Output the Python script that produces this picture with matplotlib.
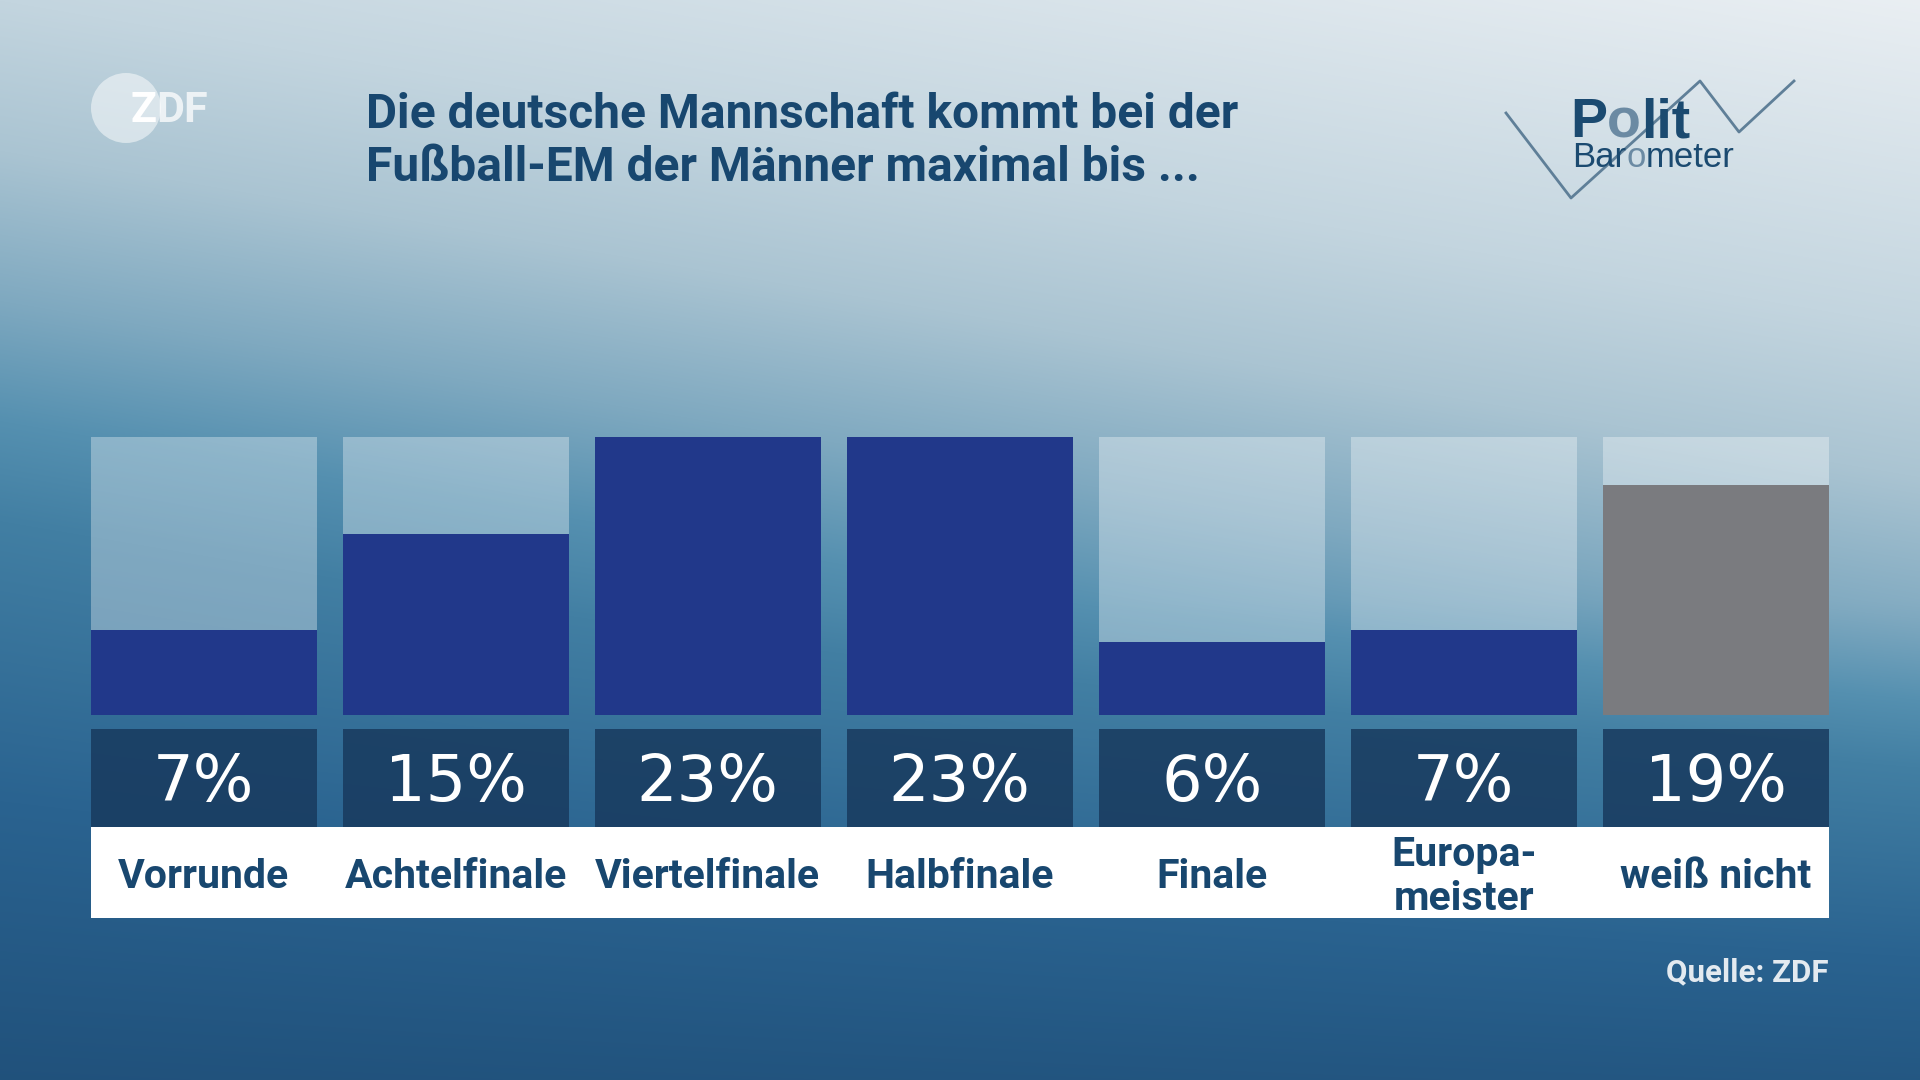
import matplotlib
matplotlib.use('Agg')
import matplotlib.pyplot as plt
import numpy as np
from matplotlib.patches import Circle

# data
categories = ["Vorrunde", "Achtelfinale", "Viertelfinale", "Halbfinale",
              "Finale", "Europa-\nmeister", "weiß nicht"]
values = [7, 15, 23, 23, 6, 7, 19]
is_undecided = [False, False, False, False, False, False, True]
title_lines = ["Die deutsche Mannschaft kommt bei der",
               "Fußball-EM der Männer maximal bis ..."]
source = "Quelle: ZDF"

W, H = 1920, 1080
NAVY = "#18476f"
BAR_BLUE = "#21388a"
GREY = "#7a7b7f"

plt.rcParams['font.family'] = ['Roboto', 'DejaVu Sans']

fig = plt.figure(figsize=(19.2, 10.8), dpi=100)

# background gradient, light in the upper right, dark blue at the bottom
bg = fig.add_axes([0, 0, 1, 1])
yy, xx = np.mgrid[0:H:2, 0:W:2]
u = yy - 0.17 * xx + 0.12 * xx * np.clip((yy - 600) / 480, 0, 1)
stops = [-330, 0, 150, 300, 420, 520, 800, 1100]
cols = ["#eaeff3", "#c3d5df", "#aac4d2", "#7fa9c0", "#5590b0", "#427fa3",
        "#2a6390", "#20507a"]
rgb = np.array([matplotlib.colors.to_rgb(c) for c in cols])
img = np.dstack([np.interp(u, stops, rgb[:, k]) for k in range(3)])
bg.imshow(img, extent=[0, W, H, 0], aspect='auto', interpolation='bilinear')
bg.set_xlim(0, W)
bg.set_ylim(H, 0)
bg.axis('off')

# ZDF logo
bg.add_patch(Circle((126, 108), 35, color='white', alpha=0.5, lw=0))
zt = bg.text(130, 122, "Z", color='white', fontsize=31, fontweight='bold', va='baseline')
bg.annotate("DF", xy=(1, 0), xycoords=zt, va='bottom', color='white', alpha=0.75,
            fontsize=31, fontweight='bold')

# title
bg.text(366, 128, title_lines[0], color=NAVY, fontsize=34.5, fontweight='bold',
        va='baseline')
bg.text(366, 181, title_lines[1], color=NAVY, fontsize=34.5, fontweight='bold',
        va='baseline')

# Politbarometer logo
bg.plot([1506, 1571, 1700, 1739, 1794], [113, 198, 81, 132, 81], color="#5f7f98", lw=2)
logo_dark = "#1b4a70"
logo_light = "#6b8aa3"
p1 = bg.text(1570, 137, "P", color=logo_dark, fontsize=40, fontweight='bold',
             family='Liberation Sans', va='baseline')
p2 = bg.annotate("o", xy=(1, 0), xycoords=p1, va='bottom', color=logo_light, fontsize=40,
                 fontweight='bold', family='Liberation Sans')
bg.annotate("lit", xy=(1, 0), xycoords=p2, va='bottom', color=logo_dark, fontsize=40,
            fontweight='bold', family='Liberation Sans')
b1 = bg.text(1572, 167, "Bar", color=logo_dark, fontsize=25, family='Liberation Sans',
             va='baseline')
b2 = bg.annotate("o", xy=(1, 0), xycoords=b1, va='bottom', color=logo_light, fontsize=25,
                 family='Liberation Sans')
bg.annotate("meter", xy=(1, 0), xycoords=b2, va='bottom', color=logo_dark, fontsize=25,
            family='Liberation Sans')

# bars
left, right = 90.6 / W, 1829 / W
x = np.arange(len(values))
bw = 0.897
ymax = max(values)

ax = fig.add_axes([left, 1 - 715 / H, right - left, (715 - 437) / H])
ax.bar(x, [ymax] * len(x), width=bw, color='white', alpha=0.33, lw=0)
ax.bar(x, values, width=bw, lw=0,
       color=[GREY if u_ else BAR_BLUE for u_ in is_undecided])
ax.set_xlim(-bw / 2, len(x) - 1 + bw / 2)
ax.set_ylim(0, ymax)
ax.axis('off')

# percentage boxes
axp = fig.add_axes([left, 1 - 826.5 / H, right - left, (826.5 - 728.6) / H])
axp.bar(x, [1] * len(x), width=bw, color="#183a5e", alpha=0.85, lw=0)
for xi, v in zip(x, values):
    axp.text(xi, 0.44, "%d%%" % v, ha='center', va='center', color='white',
             fontsize=46, family='DejaVu Sans')
axp.set_xlim(-bw / 2, len(x) - 1 + bw / 2)
axp.set_ylim(0, 1)
axp.axis('off')

# category labels on white strip
axl = fig.add_axes([left, 1 - 918 / H, right - left, (918 - 826.5) / H])
axl.set_facecolor('white')
for xi, c in zip(x, categories):
    axl.text(xi, 0.45, c, ha='center', va='center', color=NAVY, fontsize=29.5,
             fontweight='bold', linespacing=1.2)
axl.set_xlim(-bw / 2, len(x) - 1 + bw / 2)
axl.set_ylim(0, 1)
axl.set_xticks([])
axl.set_yticks([])
for s in axl.spines.values():
    s.set_visible(False)

bg.text(1829, 972, source, ha='right', va='center', color="#e3eaf0", fontsize=22.5,
        fontweight='bold')

fig.savefig("out.png", dpi=100)
